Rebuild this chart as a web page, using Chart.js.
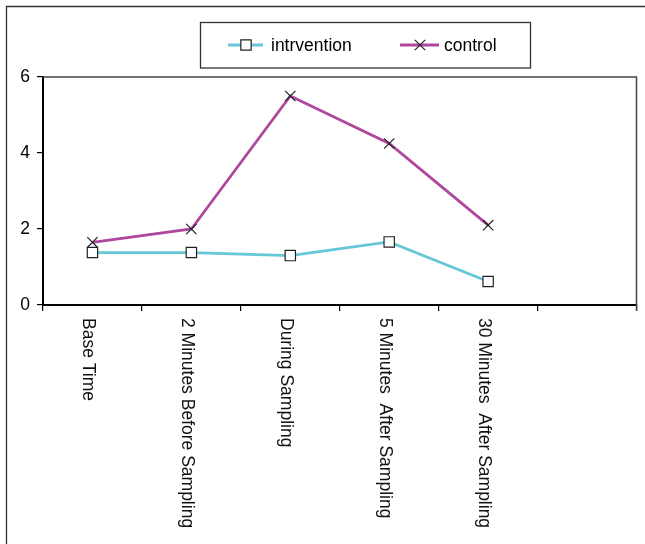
<!DOCTYPE html>
<html>
<head>
<meta charset="utf-8">
<script src="https://cdn.jsdelivr.net/npm/chart.js@4/dist/chart.umd.min.js"></script>
<style>
  body { margin: 0; background: #fff; }
  canvas { display: block; }
</style>
</head>
<body>
<canvas id="sampChart" width="645" height="544"></canvas>
<script>
// categories (last slot is empty, as in the original sheet)
var categories = ['Base Time', '2 Minutes Before Sampling', 'During Sampling',
  '5 Minutes  After Sampling', '30 Minutes  After Sampling', ''];

// series values
var interventionValues = [1.38, 1.38, 1.3, 1.66, 0.62, null];
var controlValues = [1.65, 2.0, 5.5, 4.25, 2.1, null];

// y tick values
var yTicks = [0, 2, 4, 6];

var fontName = "'Liberation Sans', Arial, sans-serif";
Chart.defaults.font.family = fontName;
Chart.defaults.font.size = 17.5;
Chart.defaults.color = '#000';

// frame, legend box and rotated category labels
var decorPlugin = {
    id: 'decor',
    afterDraw: function (chart) {
        var ctx = chart.ctx;
        var area = chart.chartArea;
        var xScale = chart.scales.x;
        ctx.save();

        // outer frame (only left and top are inside the picture)
        ctx.strokeStyle = '#333';
        ctx.lineWidth = 1.3;
        ctx.beginPath();
        ctx.moveTo(6.5, 560);
        ctx.lineTo(6.5, 6.5);
        ctx.lineTo(660, 6.5);
        ctx.stroke();

        // plot frame top and right
        ctx.strokeStyle = '#444';
        ctx.lineWidth = 1.5;
        ctx.beginPath();
        ctx.moveTo(area.left, area.top);
        ctx.lineTo(area.right, area.top);
        ctx.lineTo(area.right, area.bottom + 6);
        ctx.stroke();

        // legend box
        ctx.strokeStyle = '#333';
        ctx.lineWidth = 1.3;
        ctx.strokeRect(200.5, 22.5, 330, 45.5);

        var legendItems = [
            { ds: chart.data.datasets[0], x1: 228, x2: 263, mx: 246, tx: 271 },
            { ds: chart.data.datasets[1], x1: 400, x2: 439, mx: 420, tx: 444 }
        ];
        var ly = 45;
        legendItems.forEach(function (it) {
            ctx.strokeStyle = it.ds.borderColor;
            ctx.lineWidth = 3;
            ctx.beginPath();
            ctx.moveTo(it.x1, ly);
            ctx.lineTo(it.x2, ly);
            ctx.stroke();
            ctx.strokeStyle = it.ds.pointBorderColor;
            ctx.fillStyle = it.ds.pointBackgroundColor;
            ctx.lineWidth = it.ds.pointBorderWidth;
            Chart.helpers.drawPoint(ctx, {
                pointStyle: it.ds.pointStyle,
                radius: it.ds.pointRadius,
                rotation: 0,
                borderWidth: it.ds.pointBorderWidth
            }, it.mx, ly);
            ctx.fillStyle = '#000';
            ctx.font = '17.5px ' + fontName;
            ctx.textAlign = 'left';
            ctx.textBaseline = 'middle';
            ctx.fillText(it.ds.label, it.tx, ly + 1);
        });

        // category labels, rotated clockwise
        ctx.fillStyle = '#111';
        ctx.font = '17.5px ' + fontName;
        ctx.textAlign = 'left';
        ctx.textBaseline = 'alphabetic';
        chart.data.labels.forEach(function (lab, i) {
            if (!lab) return;
            var px = xScale.getPixelForValue(i);
            ctx.save();
            ctx.translate(px - 9.5, area.bottom + 13);
            ctx.rotate(Math.PI / 2);
            ctx.fillText(lab, 0, 0);
            ctx.restore();
        });

        ctx.restore();
    }
};

new Chart(document.getElementById('sampChart'), {
    type: 'line',
    data: {
        labels: categories,
        datasets: [
            {
                label: 'intrvention',
                data: interventionValues,
                borderColor: '#66c7d6',
                borderWidth: 2.8,
                pointStyle: 'rect',
                pointRadius: 7.3,
                pointBorderColor: '#222',
                pointBackgroundColor: '#fff',
                pointBorderWidth: 1.2,
                tension: 0
            },
            {
                label: 'control',
                data: controlValues,
                borderColor: '#b0479e',
                borderWidth: 2.8,
                pointStyle: 'crossRot',
                pointRadius: 7.3,
                pointBorderColor: '#222',
                pointBackgroundColor: '#222',
                pointBorderWidth: 1.2,
                tension: 0
            }
        ]
    },
    options: {
        responsive: false,
        animation: false,
        layout: { padding: { top: 77, right: 3, left: 0, bottom: 0 } },
        plugins: {
            legend: { display: false },
            tooltip: { enabled: false }
        },
        scales: {
            x: {
                type: 'category',
                offset: true,
                grid: { offset: true, drawOnChartArea: false, color: '#000', tickLength: 6, lineWidth: 1.2 },
                border: { color: '#000', width: 2 },
                ticks: { display: false },
                afterFit: function (scale) { scale.height = 239; }
            },
            y: {
                min: 0,
                max: 6,
                afterBuildTicks: function (scale) {
                    scale.ticks = yTicks.map(function (v) { return { value: v }; });
                },
                grid: { drawOnChartArea: false, color: '#000', tickLength: 6, lineWidth: 1.2 },
                border: { color: '#000', width: 2 },
                ticks: { padding: 7, color: '#000' },
                afterFit: function (scale) { scale.width = 43; }
            }
        }
    },
    plugins: [decorPlugin]
});
</script>
</body>
</html>
